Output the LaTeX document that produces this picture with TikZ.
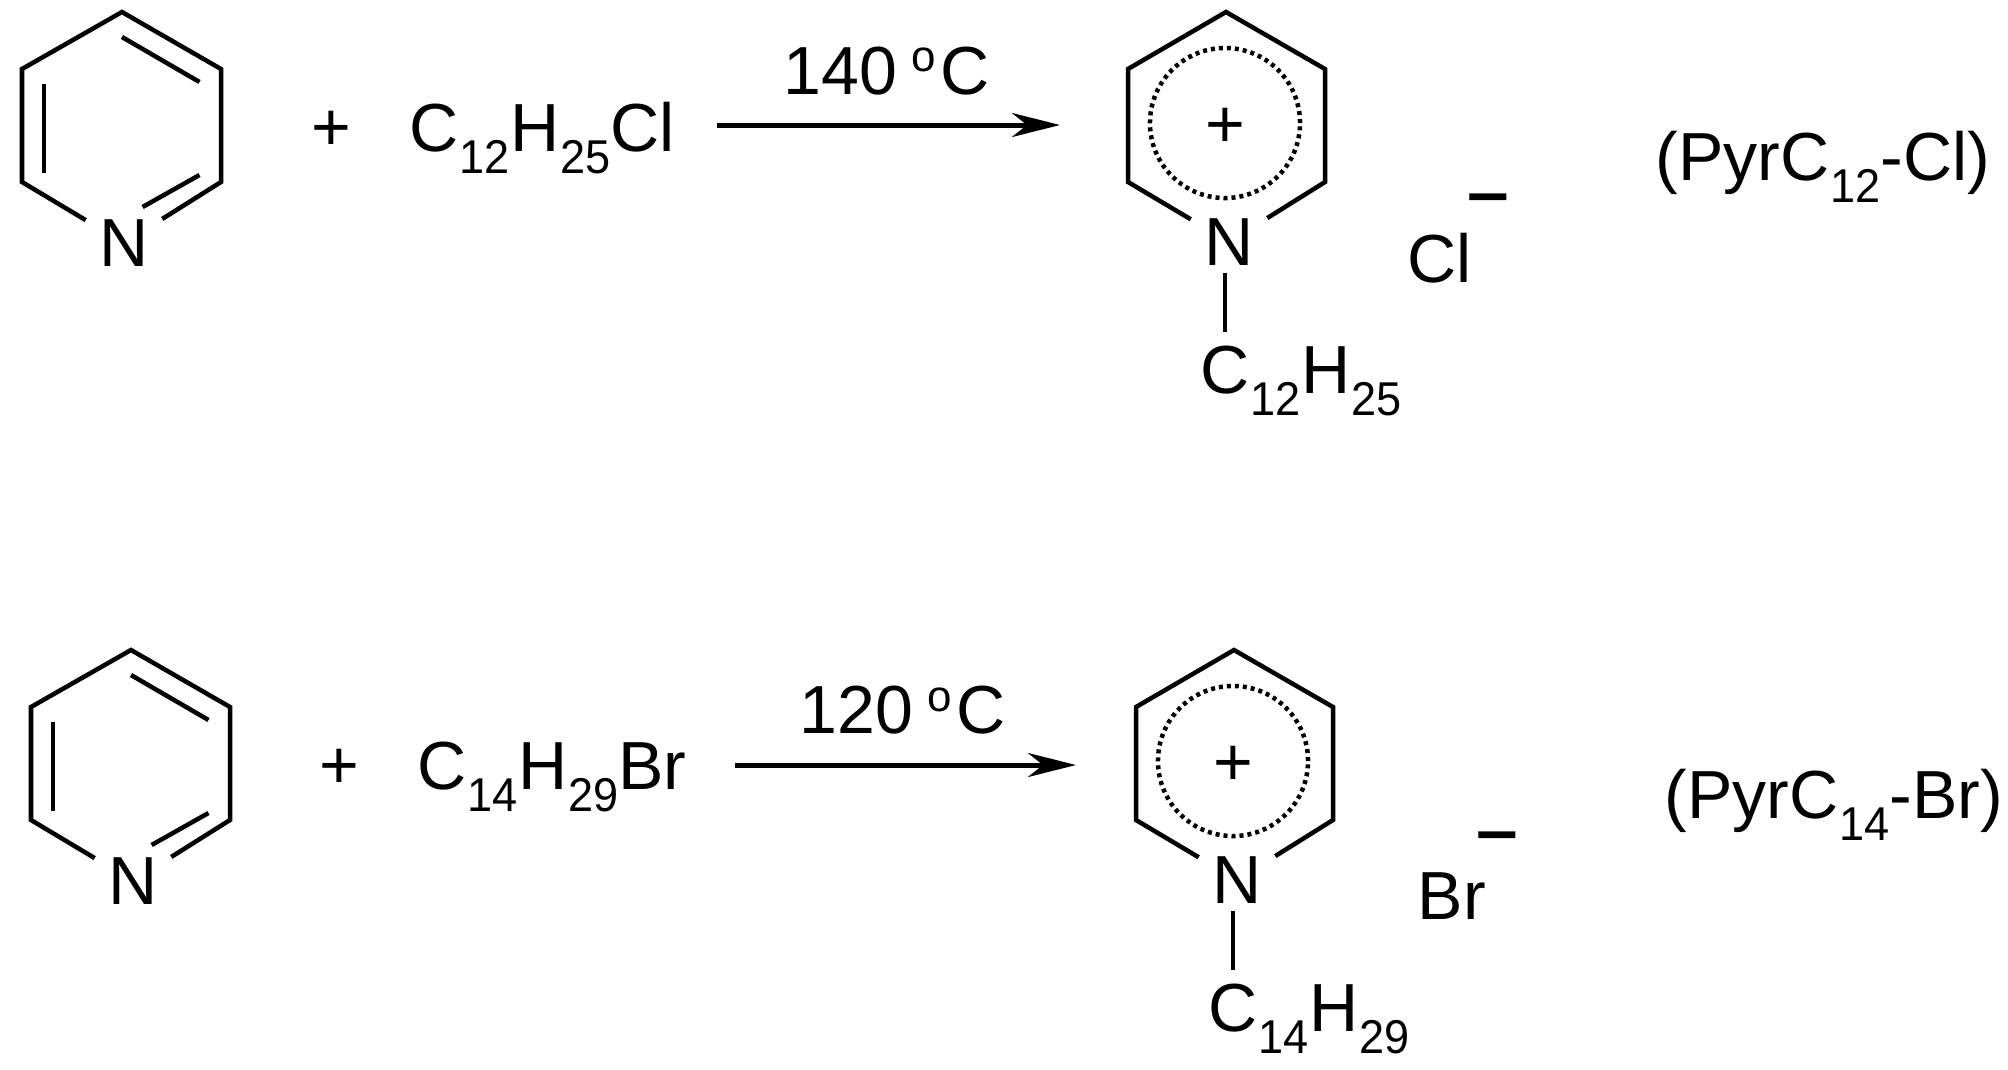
\documentclass[tikz,border=0pt]{standalone}
\usepackage{fontspec}
\setmainfont{Liberation Sans}
\usetikzlibrary{arrows.meta}

\newcommand{\lowsub}[1]{\kern0.01cm\raisebox{-0.22cm}{\scalebox{0.95}[1]{\fontsize{13.5}{14}\selectfont #1}}}
\newcommand{\degsign}{\raisebox{0.22cm}{\fontsize{12.5}{13}\selectfont o}\kern0.05cm}

\tikzset{
  bond/.style={line width=0.045cm, line join=miter},
  ringdots/.style={line width=0.045cm, dash pattern=on 0.04cm off 0.04cm},
  label/.style={inner sep=0, anchor=base west, font=\fontsize{19.35}{22}\selectfont},
  atom/.style={inner xsep=0.13cm, inner ysep=0.07cm, font=\fontsize{19.35}{22}\selectfont},
  reaction/.style={line width=0.05cm, -{Stealth[length=0.48cm, width=0.24cm, inset=0.15cm]}}
}

\begin{document}
\begin{tikzpicture}[x=0.01cm, y=-0.01cm]
    \useasboundingbox (0,0) rectangle (2008,1069);

    % first reaction, pyridine
    \node[atom] (n1) at (124,243) {N};
    \coordinate (t1) at (122,12);
    \coordinate (ur1) at (221,69);
    \coordinate (lr1) at (221,182);
    \coordinate (ll1) at (22,182);
    \coordinate (ul1) at (22,69);
    \draw[bond] (n1) -- (ll1) -- (ul1) -- (t1) -- (ur1) -- (lr1) -- (n1);
    \draw[bond] (122,37) -- (199.5,82);
    \draw[bond] (44,84) -- (44,173);
    \draw[bond] (199.5,175) -- (142.6,207);

    \node[label] (plus1) at (311,150) {+};
    \node[label] (rx1) at (409,151) {C\lowsub{12}H\lowsub{25}Cl};

    % first arrow
    \node[label] (temp1) at (783,94) {140\kern0.14cm\degsign C};
    \coordinate (from1) at (717,125);
    \coordinate (to1) at (1060,125);
    \draw[reaction] (from1) -- (to1);

    % first product
    \node[atom] (n3) at (1229,242) {N};
    \coordinate (t3) at (1226,12);
    \coordinate (ur3) at (1325,69);
    \coordinate (lr3) at (1325,182);
    \coordinate (ll3) at (1128,182);
    \coordinate (ul3) at (1128,69);
    \coordinate (ctr3) at (1225,123);
    \draw[bond] (n3) -- (ll3) -- (ul3) -- (t3) -- (ur3) -- (lr3) -- (n3);
    \draw[ringdots] (ctr3) circle[radius=0.75cm];
    \node[label, anchor=center, yshift=-0.05cm] (ch3) at (ctr3) {+};
    \node[label] (alk3) at (1200,393) {C\lowsub{12}H\lowsub{25}};
    \draw[bond, shorten >=0.13cm] (ctr3 |- n3.south) -- (ctr3 |- alk3.north);
    \node[label] (cl3) at (1407,282) {Cl};
    \node[label, font=\fontsize{19.35}{22}\selectfont\bfseries] (min3) at (1467,215) {\scalebox{1.1}[1]{–}};
    \node[label] (name3) at (1655,180) {(PyrC\lowsub{12}-Cl)};

    % second reaction, pyridine
    \node[atom] (n2) at (133,881) {N};
    \coordinate (t2) at (131,650);
    \coordinate (ur2) at (230,707);
    \coordinate (lr2) at (230,820);
    \coordinate (ll2) at (31,820);
    \coordinate (ul2) at (31,707);
    \draw[bond] (n2) -- (ll2) -- (ul2) -- (t2) -- (ur2) -- (lr2) -- (n2);
    \draw[bond] (131,675) -- (208.5,720);
    \draw[bond] (53,722) -- (53,811);
    \draw[bond] (208.5,813) -- (151.6,845);

    \node[label] (plus2) at (319,788) {+};
    \node[label] (rx2) at (417,789) {C\lowsub{14}H\lowsub{29}Br};

    % second arrow
    \node[label] (temp2) at (799,733) {120\kern0.14cm\degsign C};
    \coordinate (from2) at (735,765);
    \coordinate (to2) at (1076,765);
    \draw[reaction] (from2) -- (to2);

    % second product
    \node[atom] (n4) at (1237,880) {N};
    \coordinate (t4) at (1234,650);
    \coordinate (ur4) at (1333,707);
    \coordinate (lr4) at (1333,820);
    \coordinate (ll4) at (1136,820);
    \coordinate (ul4) at (1136,707);
    \coordinate (ctr4) at (1233,761);
    \draw[bond] (n4) -- (ll4) -- (ul4) -- (t4) -- (ur4) -- (lr4) -- (n4);
    \draw[ringdots] (ctr4) circle[radius=0.75cm];
    \node[label, anchor=center, yshift=-0.05cm] (ch4) at (ctr4) {+};
    \node[label] (alk4) at (1208,1031) {C\lowsub{14}H\lowsub{29}};
    \draw[bond, shorten >=0.13cm] (ctr4 |- n4.south) -- (ctr4 |- alk4.north);
    \node[label] (br4) at (1417,919) {Br};
    \node[label, font=\fontsize{19.35}{22}\selectfont\bfseries] (min4) at (1476,853) {\scalebox{1.1}[1]{–}};
    \node[label] (name4) at (1664,818) {(PyrC\lowsub{14}-Br)};
\end{tikzpicture}
\end{document}
